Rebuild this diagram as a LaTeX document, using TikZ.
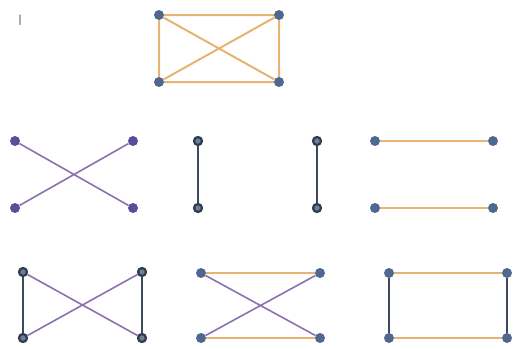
\documentclass[tikz,border=0pt]{standalone}
\definecolor{edgeor}{HTML}{E6B373}
\definecolor{edgepu}{HTML}{8C70B0}
\definecolor{edgedk}{HTML}{3C4A5C}
\definecolor{nodebl}{HTML}{4F6890}
\definecolor{nodepu}{HTML}{5C4C9C}
\definecolor{nodedk}{HTML}{2E3C52}
\definecolor{nodein}{HTML}{6E7F96}
\tikzset{
  vb/.style={circle,fill=nodebl,inner sep=0pt,minimum size=10pt},
  vp/.style={circle,fill=nodepu,inner sep=0pt,minimum size=10pt},
  vd/.style={circle,draw=nodedk,line width=2.2pt,fill=nodein,inner sep=0pt,minimum size=8pt},
  eo/.style={draw=edgeor,line width=2pt},
  ep/.style={draw=edgepu,line width=1.6pt},
  ed/.style={draw=edgedk,line width=2pt},
}
\begin{document}
\begin{tikzpicture}[x=1pt,y=-1pt]
\useasboundingbox (0,0) rectangle (527,348);
\node[text=gray,font=\fontsize{15}{15}\selectfont\sffamily,inner sep=0pt] (lab) at (20,20) {I};
% top graph
\node[vb] (t1) at (159,15) {};
\node[vb] (t2) at (279,15) {};
\node[vb] (t3) at (159,82) {};
\node[vb] (t4) at (279,82) {};
\path[eo] (t1) -- (t2) (t3) -- (t4) (t1) -- (t3) (t2) -- (t4) (t1) -- (t4) (t2) -- (t3);
% row 2 graph 1
\node[vp] (a1) at (15,141) {};
\node[vp] (a2) at (133,141) {};
\node[vp] (a3) at (15,208) {};
\node[vp] (a4) at (133,208) {};
\path[ep] (a1) -- (a4) (a2) -- (a3);
% row 2 graph 2
\node[vd] (b1) at (198,141) {};
\node[vd] (b2) at (198,208) {};
\path[ed] (b1) -- (b2);
% row 2 graph 3
\node[vd] (c1) at (317,141) {};
\node[vd] (c2) at (317,208) {};
\path[ed] (c1) -- (c2);
% row 2 graph 4
\node[vb] (d1) at (375,141) {};
\node[vb] (d2) at (493,141) {};
\node[vb] (d3) at (375,208) {};
\node[vb] (d4) at (493,208) {};
\path[eo] (d1) -- (d2) (d3) -- (d4);
% row 3 graph 1
\node[vd] (e1) at (23,272) {};
\node[vd] (e2) at (142,272) {};
\node[vd] (e3) at (23,338) {};
\node[vd] (e4) at (142,338) {};
\path[ed] (e1) -- (e3) (e2) -- (e4);
\path[ep] (e1) -- (e4) (e2) -- (e3);
% row 3 graph 2
\node[vb] (f1) at (201,273) {};
\node[vb] (f2) at (320,273) {};
\node[vb] (f3) at (201,338) {};
\node[vb] (f4) at (320,338) {};
\path[eo] (f1) -- (f2) (f3) -- (f4);
\path[ep] (f1) -- (f4) (f2) -- (f3);
% row 3 graph 3
\node[vb] (g1) at (389,273) {};
\node[vb] (g2) at (507,273) {};
\node[vb] (g3) at (389,338) {};
\node[vb] (g4) at (507,338) {};
\path[eo] (g1) -- (g2) (g3) -- (g4);
\path[ed] (g1) -- (g3) (g2) -- (g4);
\end{tikzpicture}
\end{document}
